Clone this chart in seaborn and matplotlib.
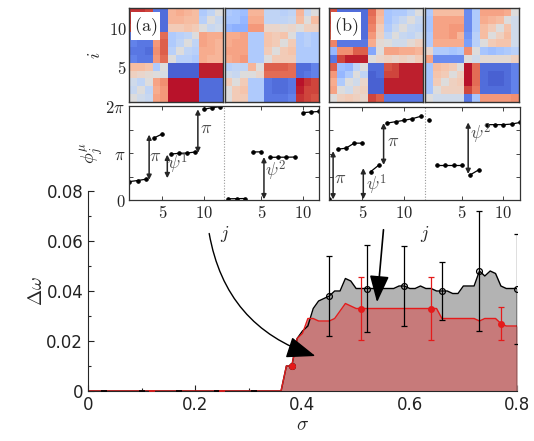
import numpy as np
import pandas as pd
import matplotlib
matplotlib.use("Agg")
import matplotlib.pyplot as plt
import seaborn as sns

# ── Main panel data ──
sigma = [0.0, 0.36, 0.37, 0.38, 0.39, 0.40, 0.41, 0.42, 0.43, 0.44, 0.45, 0.46, 0.47,
         0.48, 0.49, 0.50, 0.51, 0.52, 0.53, 0.54, 0.55, 0.56, 0.57, 0.58, 0.59, 0.60,
         0.61, 0.62, 0.63, 0.64, 0.65, 0.66, 0.67, 0.68, 0.69, 0.70, 0.71, 0.72, 0.73,
         0.74, 0.75, 0.76, 0.77, 0.78, 0.79, 0.80]
dw_black = [0.0, 0.0, 0.010, 0.010, 0.021, 0.024, 0.026, 0.033, 0.036, 0.037, 0.038,
            0.040, 0.040, 0.045, 0.044, 0.041, 0.041, 0.041, 0.041, 0.041, 0.041, 0.041,
            0.041, 0.042, 0.042, 0.041, 0.041, 0.042, 0.041, 0.041, 0.040, 0.040, 0.040,
            0.039, 0.039, 0.042, 0.042, 0.042, 0.048, 0.046, 0.048, 0.047, 0.042, 0.041,
            0.041, 0.041]
dw_red = [0.0, 0.0, 0.010, 0.010, 0.021, 0.023, 0.029, 0.029, 0.028, 0.028, 0.028,
          0.029, 0.032, 0.035, 0.034, 0.033, 0.033, 0.033, 0.033, 0.033, 0.033, 0.033,
          0.033, 0.033, 0.033, 0.033, 0.033, 0.033, 0.033, 0.033, 0.033, 0.029, 0.029,
          0.029, 0.029, 0.029, 0.029, 0.029, 0.028, 0.029, 0.029, 0.029, 0.027, 0.026,
          0.026, 0.026]

pts_black_x = [0.03, 0.10, 0.17, 0.24, 0.31, 0.38, 0.45, 0.52, 0.59, 0.66, 0.73, 0.80]
pts_black_y = [0.0, 0.0, 0.0, 0.0, 0.0, 0.010, 0.038, 0.041, 0.042, 0.040, 0.048, 0.041]
err_black = [0.0, 0.0, 0.0, 0.0, 0.0, 0.0, 0.016, 0.0175, 0.016, 0.0117, 0.024, 0.022]

pts_red_x = [0.12, 0.25, 0.38, 0.51, 0.64, 0.77]
pts_red_y = [0.0, 0.0, 0.010, 0.033, 0.033, 0.027]
err_red = [0.0, 0.0, 0.0, 0.0125, 0.0125, 0.0067]

x_ticks = [0.0, 0.2, 0.4, 0.6, 0.8]
x_ticklabels = ["0", "0.2", "0.4", "0.6", "0.8"]
y_ticks = [0.0, 0.02, 0.04, 0.06, 0.08]
y_ticklabels = ["0", "0.02", "0.04", "0.06", "0.08"]

# arrows in the main panel (start, end) in data units
arrow_a = ((0.226, 0.063), (0.424, 0.0140))
arrow_b = ((0.551, 0.0645), (0.539, 0.0355))

# ── Inset heatmaps (rows top to bottom, i = 12 ... 1) ──
hm_a1 = [
    [0.9, 0.9, 0.85, -0.8, -0.85, 0.35, 0.4, 0.35, 0.3, -0.3, -0.2, 0.0],
    [0.9, 0.85, 0.85, -0.8, -0.85, 0.35, 0.35, 0.3, 0.3, -0.25, 0.0, -0.15],
    [0.85, 0.85, 0.8, -0.8, -0.85, 0.2, 0.2, 0.25, 0.2, 0.0, -0.15, -0.1],
    [-0.75, -0.75, -0.8, 0.5, 0.7, -0.3, -0.25, -0.2, 0.0, 0.45, 0.4, 0.4],
    [-0.75, -0.8, -0.8, 0.5, 0.75, -0.3, -0.2, 0.0, -0.2, 0.45, 0.4, 0.35],
    [-0.8, -0.8, -0.85, 0.55, 0.75, -0.25, 0.0, -0.2, -0.25, 0.4, 0.4, 0.35],
    [-0.75, -0.8, -0.8, 0.5, 0.7, 0.0, -0.25, -0.25, -0.3, 0.4, 0.35, 0.35],
    [0.3, 0.3, 0.25, -0.3, 0.0, -0.9, -0.9, -0.9, -0.9, 0.95, 0.95, 0.95],
    [0.15, 0.1, 0.05, 0.0, -0.05, -0.9, -0.9, -0.9, -0.9, 0.95, 0.95, 0.95],
    [-0.1, -0.2, 0.0, 0.45, 0.55, 0.97, 0.97, 0.97, 0.97, -0.85, -0.85, -0.85],
    [-0.15, 0.0, -0.2, 0.4, 0.5, 0.97, 0.97, 0.97, 0.97, -0.85, -0.85, -0.85],
    [0.0, -0.1, -0.15, 0.45, 0.5, 0.97, 0.97, 0.97, 0.97, -0.85, -0.85, -0.85],
]
hm_a2 = [
    [-0.3, -0.35, -0.4, 0.35, 0.35, -0.2, -0.2, -0.25, -0.2, 0.35, -0.15, 0.0],
    [-0.35, -0.35, -0.45, 0.4, 0.4, -0.2, -0.2, -0.2, -0.15, 0.3, 0.0, 0.3],
    [-0.45, -0.5, -0.5, 0.5, 0.5, 0.1, 0.1, 0.05, 0.1, 0.0, 0.15, 0.15],
    [0.4, 0.4, 0.45, -0.3, -0.3, 0.25, 0.2, 0.25, 0.0, -0.3, -0.25, -0.3],
    [0.4, 0.45, 0.45, -0.3, -0.3, 0.25, 0.2, 0.0, 0.2, -0.3, -0.25, -0.3],
    [0.45, 0.45, 0.45, -0.3, -0.3, 0.2, 0.0, 0.2, 0.25, -0.3, -0.3, -0.3],
    [0.4, 0.45, 0.5, -0.3, -0.3, 0.0, 0.2, 0.2, 0.2, -0.3, -0.3, -0.3],
    [-0.25, -0.2, -0.2, 0.35, 0.0, 0.75, 0.75, 0.75, 0.7, -0.85, -0.85, -0.75],
    [-0.1, -0.15, 0.0, 0.0, 0.1, 0.7, 0.7, 0.7, 0.7, -0.85, -0.8, -0.75],
    [0.2, 0.0, 0.2, -0.3, -0.3, -0.8, -0.85, -0.85, -0.8, 0.97, 0.9, 0.85],
    [0.0, 0.2, 0.25, -0.3, -0.3, -0.8, -0.85, -0.85, -0.8, 0.95, 0.85, 0.85],
    [0.0, 0.2, 0.2, -0.3, -0.3, -0.8, -0.8, -0.8, -0.75, 0.9, 0.85, 0.8],
]
hm_b1 = [
    [0.8, -0.85, -0.85, -0.85, -0.85, 0.7, 0.35, -0.35, -0.3, -0.3, -0.2, 0.0],
    [0.85, -0.85, -0.85, -0.85, -0.85, 0.65, 0.3, -0.35, -0.25, -0.15, 0.0, -0.15],
    [0.8, -0.85, -0.85, -0.85, -0.85, 0.6, 0.2, -0.3, -0.15, 0.0, -0.15, -0.2],
    [0.75, -0.8, -0.8, -0.85, -0.85, 0.5, 0.15, -0.2, 0.0, -0.15, -0.2, -0.1],
    [0.6, -0.8, -0.8, -0.8, -0.8, 0.4, 0.05, 0.0, -0.1, -0.1, 0.05, 0.15],
    [-0.45, 0.55, 0.55, 0.75, 0.75, -0.55, 0.0, 0.45, 0.45, 0.4, 0.4, 0.35],
    [-0.8, 0.85, 0.95, 0.95, 0.95, 0.0, 0.1, 0.15, 0.1, 0.15, 0.1, 0.2],
    [0.75, -0.4, -0.45, -0.2, 0.0, -0.85, -0.85, 0.8, 0.85, 0.95, 0.95, 0.95],
    [0.5, -0.45, -0.3, 0.0, -0.2, -0.9, -0.85, 0.85, 0.85, 0.95, 0.95, 0.95],
    [0.4, -0.3, 0.0, -0.1, 0.1, -0.9, -0.9, 0.95, 0.95, 0.95, 0.95, 0.95],
    [0.45, 0.0, -0.1, 0.1, 0.15, -0.9, -0.9, 0.95, 0.95, 0.95, 0.95, 0.95],
    [0.0, 0.15, 0.2, 0.15, 0.1, 0.85, 0.75, -0.8, -0.8, -0.8, -0.8, -0.8],
]
hm_b2 = [
    [-0.3, 0.3, 0.3, 0.3, 0.3, -0.7, -0.3, 0.45, 0.45, 0.45, 0.4, 0.0],
    [-0.35, 0.45, 0.45, 0.45, 0.45, -0.7, -0.3, 0.4, 0.35, 0.3, 0.0, -0.1],
    [-0.35, 0.45, 0.45, 0.5, 0.5, -0.7, -0.3, 0.3, 0.2, 0.0, 0.25, -0.1],
    [-0.3, 0.45, 0.45, 0.5, 0.35, -0.65, -0.25, 0.3, 0.0, 0.15, 0.3, -0.1],
    [-0.3, 0.4, 0.4, 0.4, 0.4, -0.6, -0.25, 0.0, 0.2, 0.25, 0.25, -0.1],
    [0.1, -0.3, -0.3, -0.35, -0.3, 0.55, 0.0, -0.35, -0.4, -0.35, -0.3, -0.25],
    [0.45, -0.7, -0.7, -0.7, -0.7, 0.0, -0.1, 0.05, 0.05, 0.05, 0.05, 0.15],
    [-0.35, 0.3, 0.25, 0.2, 0.0, 0.97, 0.7, -0.85, -0.85, -0.85, -0.85, -0.75],
    [-0.35, 0.25, 0.2, 0.0, 0.15, 0.97, 0.7, -0.85, -0.9, -0.9, -0.85, -0.75],
    [-0.35, 0.2, 0.0, 0.15, 0.2, 0.97, 0.7, -0.85, -0.9, -0.9, -0.85, -0.75],
    [-0.35, 0.0, 0.15, 0.15, 0.15, 0.85, 0.65, -0.85, -0.85, -0.85, -0.85, -0.75],
    [0.0, -0.1, -0.1, -0.1, -0.1, -0.8, -0.35, 0.5, 0.5, 0.5, 0.5, 0.55],
]

# ── Inset phases phi_j^mu (j = 1..12 for mu = 1, then mu = 2) ──
phi_a = [1.23, 1.30, 1.39, 4.15, 4.42, 3.07, 3.12, 3.14, 3.21, 6.06, 6.17, 6.24,
         0.08, 0.09, 0.10, 3.21, 3.22, 2.85, 2.86, 2.86, 2.87, 5.84, 5.88, 5.92]
seg_a = [1, 1, 1, 2, 2, 3, 3, 3, 3, 4, 4, 4,
         5, 5, 5, 6, 6, 7, 7, 7, 7, 8, 8, 8]
phi_b = [0.04, 3.43, 3.50, 3.84, 3.84, 1.92, 2.37, 5.20, 5.29, 5.38, 5.49, 5.65,
         5.42, 2.37, 2.37, 2.37, 2.37, 1.70, 2.03, 5.09, 5.09, 5.09, 5.13, 5.24]
seg_b = [1, 2, 2, 2, 2, 3, 3, 4, 4, 4, 4, 4,
         5, 6, 6, 6, 6, 7, 7, 8, 8, 8, 8, 8]

# double arrows (x, phi from, phi to) and their labels (x, phi, text)
arrows_a = [(3.4, 1.35, 4.37), (5.6, 1.46, 3.03), (9.3, 3.14, 6.06), (17.3, 0.05, 2.87)]
labels_a = [(4.1, 2.96, r"$\pi$"), (6.9, 2.45, r"$\psi^1$"), (10.3, 4.8, r"$\pi$"), (18.7, 1.95, r"$\psi^2$")]
arrows_b = [(1.46, 0.04, 3.3), (5.1, 0.05, 2.15), (7.55, 2.37, 5.2), (17.75, 5.24, 1.76)]
labels_b = [(2.3, 1.5, r"$\pi$"), (6.7, 1.0, r"$\psi^1$"), (8.7, 4.0, r"$\pi$"), (19.3, 4.5, r"$\psi^2$")]

# ── Style ──
sns.set_style("ticks")
plt.rcParams["font.family"] = ["DejaVu Sans"]
plt.rcParams["mathtext.fontset"] = "cm"
plt.rcParams["xtick.direction"] = "in"
plt.rcParams["ytick.direction"] = "in"

W, H = 534, 441
fig = plt.figure(figsize=(W / 100, H / 100), dpi=100)


def box(x0, y0, x1, y1):
    return [x0 / W, 1 - y1 / H, (x1 - x0) / W, (y1 - y0) / H]


RED = "#e41b1b"

# ── Main panel ──
ax = fig.add_axes(box(88, 191, 517, 391))
ax.fill_between(sigma, 0, dw_black, color="#b3b3b3", lw=0)
ax.fill_between(sigma, 0, dw_red, color="#c77a7a", lw=0)
sns.lineplot(x=sigma, y=dw_black, color="k", lw=1, ax=ax)
sns.lineplot(x=sigma, y=dw_red, color=RED, lw=1, ax=ax)
ax.plot([sigma[-1], sigma[-1]], [0, dw_black[-1]], color="k", lw=1)

# points sitting on the baseline only show as short ticks on the axis
bx, by, be = np.array(pts_black_x), np.array(pts_black_y), np.array(err_black)
rx, ry, re = np.array(pts_red_x), np.array(pts_red_y), np.array(err_red)
ax.plot(bx[by == 0], by[by == 0], ls="none", marker="_", ms=5, mew=1.2, color="k", zorder=4)
ax.plot(rx[ry == 0], ry[ry == 0], ls="none", marker="_", ms=5, mew=1.2, color=RED, zorder=5)
ax.errorbar(bx[by > 0], by[by > 0], yerr=be[by > 0], fmt="o", mfc="none", mec="k",
            ecolor="k", ms=4.2, mew=0.9, elinewidth=0.9, capsize=2.5, capthick=0.9,
            zorder=4)
ax.errorbar(rx[ry > 0], ry[ry > 0], yerr=re[ry > 0], fmt="o", color=RED, ms=4,
            elinewidth=0.9, capsize=2.5, capthick=0.9, zorder=5)

ax.annotate("", xy=arrow_a[1], xytext=arrow_a[0],
            arrowprops=dict(arrowstyle="-|>,head_length=1.2,head_width=0.45",
                            connectionstyle="arc3,rad=0.3", color="k", lw=1,
                            mutation_scale=15, shrinkA=0, shrinkB=0))
ax.annotate("", xy=arrow_b[1], xytext=arrow_b[0],
            arrowprops=dict(arrowstyle="-|>,head_length=1.1,head_width=0.4",
                            color="k", lw=1.2, mutation_scale=15, shrinkA=0, shrinkB=0))

ax.set_xlim(0, 0.8)
ax.set_ylim(0, 0.08)
ax.set_xticks(x_ticks)
ax.set_xticklabels(x_ticklabels)
ax.set_yticks(y_ticks)
ax.set_yticklabels(y_ticklabels)
ax.set_xticks(np.arange(0.1, 0.8, 0.2), minor=True)
ax.set_yticks(np.arange(0.01, 0.08, 0.02), minor=True)
ax.tick_params(which="major", length=4, width=0.8, labelsize=12, colors="#222222")
ax.tick_params(which="minor", length=2.5, width=0.8)
for s in ["top", "right"]:
    ax.spines[s].set_visible(False)
for s in ["left", "bottom"]:
    ax.spines[s].set_linewidth(0.8)
ax.set_xlabel(r"$\sigma$", fontsize=14, labelpad=1)
ax.set_ylabel(r"$\Delta\omega$", fontsize=14, labelpad=0)


# ── Insets ──
def draw_heatmap(rect, mat, ylab=False, tag=None):
    hax = fig.add_axes(box(*rect))
    sns.heatmap(np.array(mat), cmap="coolwarm", vmin=-1, vmax=1, cbar=False,
                xticklabels=False, yticklabels=False, ax=hax)
    n = len(mat)
    hax.set_xticks([j - 0.5 for j in (5, 10)])
    hax.set_yticks([n - i + 0.5 for i in (5, 10)])
    hax.set_xticklabels([])
    hax.set_yticklabels([r"$5$", r"$10$"] if ylab else [])
    hax.tick_params(top=True, right=True, direction="in", length=2.5, width=0.6,
                    labelsize=12, pad=2)
    for sp in hax.spines.values():
        sp.set_visible(True)
        sp.set_linewidth(1.0)
        sp.set_color("#333333")
    if ylab:
        hax.set_ylabel(r"$i$", fontsize=13, labelpad=3)
    if tag:
        hax.text(0.05, 0.93, tag, transform=hax.transAxes, fontsize=13, ha="left", va="top",
                 bbox=dict(facecolor="white", edgecolor="none", pad=1.8))
    return hax


def draw_phases(rect, phi, seg, arrows, labels, ylab=False):
    pax = fig.add_axes(box(*rect))
    j = np.arange(1, 13)
    df = pd.DataFrame({"x": np.concatenate([j, j + 12]), "phi": phi, "seg": seg})
    sns.lineplot(data=df, x="x", y="phi", units="seg", estimator=None, sort=False,
                 color="k", lw=0.9, marker="o", ms=2.5, mec="k", ax=pax)
    pax.axvline(12.5, color="0.6", ls=(0, (1, 1.5)), lw=0.8)
    for x, y0, y1 in arrows:
        pax.annotate("", xy=(x, y1), xytext=(x, y0),
                     arrowprops=dict(arrowstyle="<|-|>", color="0.15", lw=1.1,
                                     mutation_scale=7, shrinkA=0, shrinkB=0))
    for x, y, t in labels:
        pax.text(x, y, t, fontsize=13, color="0.3", ha="center", va="center")
    pax.set_xlim(1, 24)
    pax.set_ylim(0, 2 * np.pi)
    pax.set_xticks([5, 10, 17, 22])
    pax.set_xticklabels([r"$5$", r"$10$", r"$5$", r"$10$"])
    pax.set_yticks([0, np.pi, 2 * np.pi])
    pax.set_yticks([np.pi / 2, 3 * np.pi / 2], minor=True)
    pax.set_yticklabels([r"$0$", r"$\pi$", r"$2\pi$"] if ylab else [])
    pax.tick_params(which="both", top=True, right=True, direction="in", length=3,
                    width=0.6, labelsize=12, pad=3)
    for sp in pax.spines.values():
        sp.set_linewidth(0.9)
        sp.set_color("#333333")
    pax.set_xlabel(r"$j$", fontsize=13, labelpad=1)
    if ylab:
        pax.set_ylabel(r"$\phi_j^\mu$", fontsize=13, labelpad=0)
    else:
        pax.set_ylabel("")
    return pax


draw_heatmap((129.3, 8.3, 222.7, 101.7), hm_a1, ylab=True, tag=r"$\mathrm{(a)}$")
draw_heatmap((224.5, 8.3, 319.3, 101.7), hm_a2)
draw_phases((129.3, 106, 319.3, 200), phi_a, seg_a, arrows_a, labels_a, ylab=True)

draw_heatmap((329.3, 8.3, 422.7, 101.7), hm_b1, tag=r"$\mathrm{(b)}$")
draw_heatmap((425.3, 8.3, 519.3, 101.7), hm_b2)
draw_phases((329.3, 107, 520, 200), phi_b, seg_b, arrows_b, labels_b)

fig.savefig("out.png", dpi=100)
